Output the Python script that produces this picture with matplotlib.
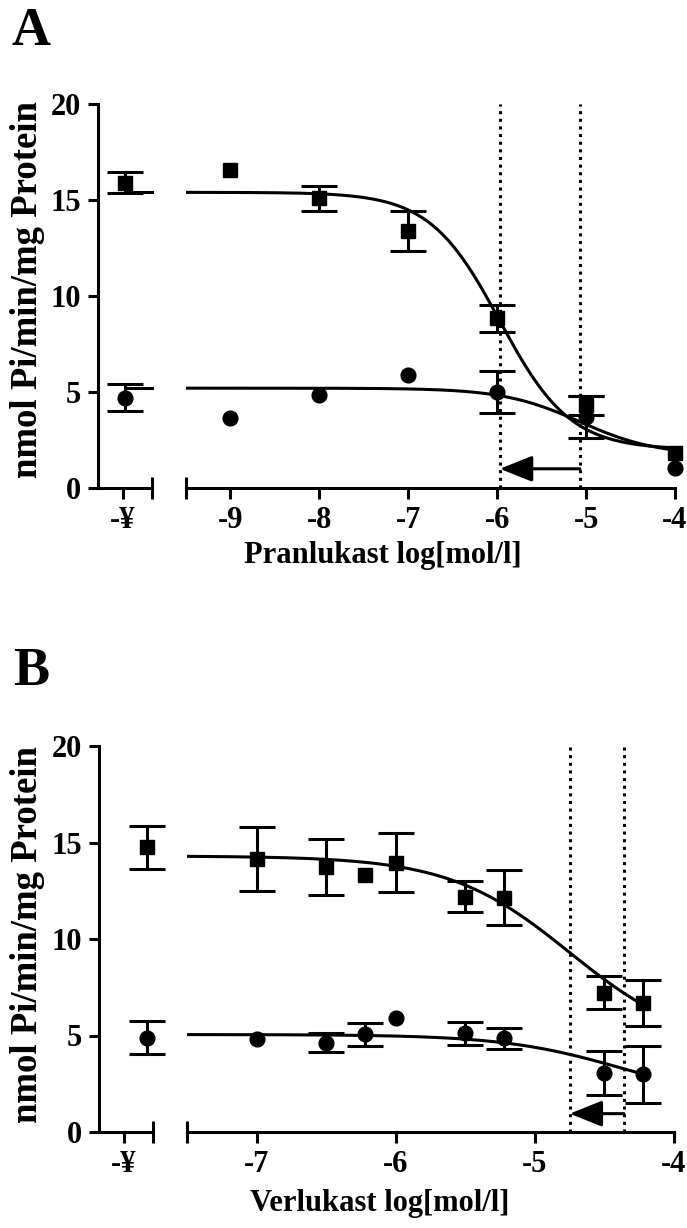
import matplotlib
matplotlib.use('Agg')
import matplotlib.pyplot as plt
import numpy as np

plt.rcParams['font.family'] = ['Liberation Serif', 'DejaVu Serif']
plt.rcParams['font.weight'] = 'bold'

# ---------------- data ----------------
ctrl_label = '-¥'
y_ticks = [0, 5, 10, 15, 20]

# Panel A: Pranlukast
a_xticks = [-9, -8, -7, -6, -5, -4]
a_x = [-9, -8, -7, -6, -5, -4]
a_sq_y = [16.55, 15.1, 13.4, 8.85, 4.3, 1.8]
a_sq_err = [0, 0.65, 1.05, 0.7, 0.5, 0]
a_ci_y = [3.65, 4.85, 5.9, 5.0, 3.7, 1.05]
a_ci_err = [0, 0, 0, 1.1, 1.1, 0]
a_sq_ctrl, a_sq_ctrl_err = 15.9, 0.55
a_ci_ctrl, a_ci_ctrl_err = 4.7, 0.7
a_sq_fit = dict(top=15.4, bottom=2.0, logec=-5.97, hill=1.1)
a_ci_fit = dict(top=5.2, bottom=1.7, logec=-5.07, hill=1.0)
a_xlabel = 'Pranlukast log[mol/l]'

# Panel B: Verlukast
b_xticks = [-7, -6, -5, -4]
b_x = [-7, -6.5, -6.22, -6, -5.5, -5.22, -4.5, -4.22]
b_sq_y = [14.16, 13.73, 13.32, 13.96, 12.2, 12.15, 7.22, 6.7]
b_sq_err = [1.65, 1.43, 0, 1.55, 0.82, 1.42, 0.86, 1.2]
b_ci_y = [4.8, 4.63, 5.06, 5.89, 5.12, 4.85, 3.07, 2.99]
b_ci_err = [0, 0.5, 0.6, 0, 0.6, 0.55, 1.15, 1.47]
b_sq_ctrl, b_sq_ctrl_err = 14.75, 1.1
b_ci_ctrl, b_ci_ctrl_err = 4.89, 0.87
b_sq_fit = dict(top=14.3, bottom=4.3, logec=-4.75, hill=1.0)
b_ci_fit = dict(top=5.05, bottom=1.5, logec=-4.36, hill=1.0)
b_xlabel = 'Verlukast log[mol/l]'

ylabel = 'nmol Pi/min/mg Protein'

# ---------------- styling ----------------
LW = 2.2
MS = 10.6
CAP = 13
FS = 22


def logistic(x, top, bottom, logec, hill):
    return bottom + (top - bottom) / (1 + 10 ** ((x - logec) * hill))


def points(ax, x, y, err, marker):
    x = np.asarray(x, float); y = np.asarray(y, float); err = np.asarray(err, float)
    m = err > 0
    if m.any():
        ax.errorbar(x[m], y[m], yerr=err[m], fmt='none', ecolor='black',
                    elinewidth=LW, capsize=CAP, capthick=LW, clip_on=False, zorder=3)
    ax.plot(x, y, linestyle='none', marker=marker, markersize=MS, color='black',
            clip_on=False, zorder=4)


def style_axes(axL, axR):
    for ax in (axL, axR):
        ax.set_ylim(0, 20)
        ax.spines['top'].set_visible(False)
        ax.spines['right'].set_visible(False)
        ax.spines['bottom'].set_linewidth(LW)
        ax.spines['left'].set_linewidth(LW)
        ax.patch.set_alpha(0)
        ax.tick_params(axis='x', direction='out', length=8, width=LW, pad=5,
                       labelsize=FS)
        ax.tick_params(axis='y', direction='out', length=7, width=LW, pad=5,
                       labelsize=FS)
    axL.set_yticks(y_ticks)
    axR.spines['left'].set_visible(False)
    axR.set_yticks([])
    for lab in axL.get_yticklabels() + axL.get_xticklabels() + axR.get_xticklabels():
        lab.set_fontweight('bold')
    # end caps of broken x axis
    axL.plot([1], [0], marker='|', markersize=16.5, mew=LW, color='black',
             transform=axL.transAxes, clip_on=False)
    axR.plot([0], [0], marker='|', markersize=16.5, mew=LW, color='black',
             transform=axR.transAxes, clip_on=False)


def panel(fig, rectL, rectR, xlim, xticks, ctrl_tick, ctrl_pt,
          x, sq_y, sq_err, ci_y, ci_err, sq_ctrl, sq_ctrl_err, ci_ctrl, ci_ctrl_err,
          sq_fit, ci_fit, curve_end, ctrl_lines, arrow_y):
    axL = fig.add_axes(rectL)
    axR = fig.add_axes(rectR)
    axL.set_xlim(0, 1)
    axR.set_xlim(*xlim)
    style_axes(axL, axR)
    axL.set_xticks([ctrl_tick])
    axL.set_xticklabels([ctrl_label], fontweight='bold')
    axR.set_xticks(xticks)
    axR.set_xticklabels([str(t) for t in xticks], fontweight='bold')

    # control points
    points(axL, [ctrl_pt], [sq_ctrl], [sq_ctrl_err], 's')
    points(axL, [ctrl_pt], [ci_ctrl], [ci_ctrl_err], 'o')
    if ctrl_lines:
        axL.plot([ctrl_pt, 1], [sq_fit['top']] * 2, color='black', lw=LW, clip_on=False)
        axL.plot([ctrl_pt, 1], [ci_fit['top']] * 2, color='black', lw=LW, clip_on=False)

    # fitted curves
    xx = np.linspace(xlim[0], curve_end, 400)
    axR.plot(xx, logistic(xx, **sq_fit), color='black', lw=LW, zorder=2)
    axR.plot(xx, logistic(xx, **ci_fit), color='black', lw=LW, zorder=2)

    # data
    points(axR, x, sq_y, sq_err, 's')
    points(axR, x, ci_y, ci_err, 'o')

    # IC50 dotted lines and shift arrow
    for v in (sq_fit['logec'], ci_fit['logec']):
        axR.plot([v, v], [0, 20], color='black', lw=LW, linestyle=(0, (1, 1.5)), zorder=1)
    axR.annotate('', xy=(sq_fit['logec'], arrow_y), xytext=(ci_fit['logec'], arrow_y),
                 arrowprops=dict(arrowstyle='-|>,head_length=0.5,head_width=0.2',
                                 mutation_scale=40, lw=LW, color='black',
                                 shrinkA=0, shrinkB=0))
    return axL, axR


W, H = 687, 1228
fig = plt.figure(figsize=(W / 100, H / 100), dpi=100)


def rect(x0, x1, ytop, ybot):
    return [x0 / W, 1 - ybot / H, (x1 - x0) / W, (ybot - ytop) / H]


panel(fig, rect(98, 152, 104, 488), rect(186, 675, 104, 488), (-9.5, -4), a_xticks,
      0.46, 0.5, a_x, a_sq_y, a_sq_err, a_ci_y, a_ci_err,
      a_sq_ctrl, a_sq_ctrl_err, a_ci_ctrl, a_ci_ctrl_err,
      a_sq_fit, a_ci_fit, -4, True, 1.0)

panel(fig, rect(99, 153, 746, 1132), rect(187, 674, 746, 1132), (-7.5, -4), b_xticks,
      0.46, 0.89, b_x, b_sq_y, b_sq_err, b_ci_y, b_ci_err,
      b_sq_ctrl, b_sq_ctrl_err, b_ci_ctrl, b_ci_ctrl_err,
      b_sq_fit, b_ci_fit, b_x[-1], False, 0.95)

# labels
fig.text(31 / W, 1 - 32 / H, 'A', fontsize=39, fontweight='bold', ha='center', va='center')
fig.text(31 / W, 1 - 672 / H, 'B', fontsize=39, fontweight='bold', ha='center', va='center')
fig.text(383 / W, 1 - 555 / H, a_xlabel, fontsize=22, fontweight='bold', ha='center', va='center')
fig.text(380 / W, 1 - 1203 / H, b_xlabel, fontsize=22, fontweight='bold', ha='center', va='center')
fig.text(28 / W, 1 - 290 / H, ylabel, fontsize=26.5, fontweight='bold', rotation=90,
         ha='center', va='center')
fig.text(28 / W, 1 - 935 / H, ylabel, fontsize=26.5, fontweight='bold', rotation=90,
         ha='center', va='center')

fig.savefig('out.png', dpi=100)
